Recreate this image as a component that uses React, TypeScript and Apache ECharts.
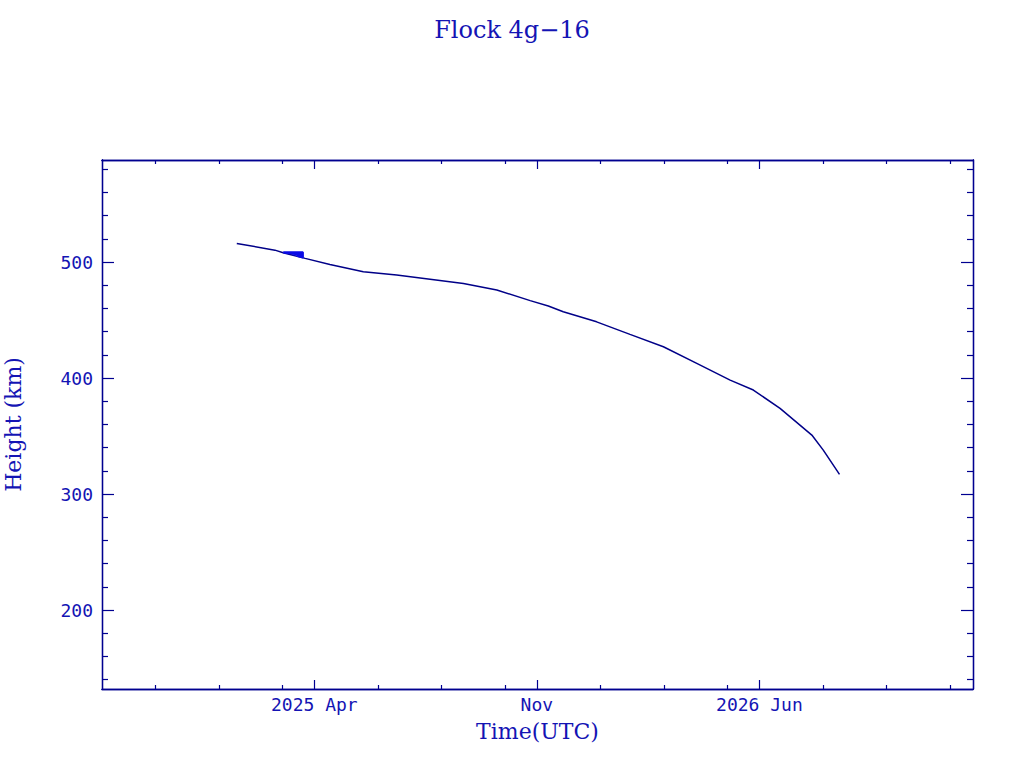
import React, { useEffect, useRef } from "react";
import * as echarts from "echarts";

// x values are month indices (Jan 2024 = 0)
const months = [12.56, 13.76, 14.02, 14.71, 15.49, 16.54, 17.59, 18.64, 19.69, 20.74, 21.79, 22.36, 22.83, 23.88, 24.93, 25.98, 27.03, 28.08, 28.81, 29.65, 30.65, 31.01, 31.52];
const heights = [516.1, 510.3, 508.0, 503.2, 498.0, 491.6, 488.8, 485.3, 481.6, 475.9, 466.8, 462.1, 457.2, 448.5, 437.7, 427.0, 412.7, 398.3, 389.7, 373.9, 350.9, 337.9, 317.0];
const blobMonths = [14.02, 14.64, 14.64, 14.45, 14.64, 14.30, 14.64, 14.15, 14.02];
const blobHeights = [508.4, 508.4, 504.0, 505.5, 505.8, 506.8, 507.0, 507.8, 508.2];

const majorX = [15, 22, 29];
const majorXLabels = ["2025 Apr", "Nov", "2026 Jun"];
const minorX = [10, 12, 14, 17, 19, 21, 24, 26, 28, 31, 33, 35];
const majorY = [200, 300, 400, 500];
const minorY = [140, 160, 180, 220, 240, 260, 280, 320, 340, 360, 380, 420, 440, 460, 480, 520, 540, 560, 580];

const X_MIN = 8.32;
const X_MAX = 35.72;
const Y_MIN = 132;
const Y_MAX = 588;

const AXIS = "#000090";
const TEXT = "#1414b4";
const LINE = "#000088";

export default function App() {
  const ref = useRef<HTMLDivElement>(null);
  useEffect(() => {
    const chart = echarts.init(ref.current!, null, { renderer: "svg" });
    const labelStyle = { fontFamily: "DejaVu Sans Mono", fontSize: 18, color: TEXT };
    const nameStyle = { fontFamily: "DejaVu Serif", fontSize: 22, color: TEXT };
    const mkX = (pos: string, values: number[], len: number, labels: boolean, extra: any = {}) => ({
      type: "value",
      position: pos,
      min: X_MIN,
      max: X_MAX,
      axisLine: { show: true, onZero: false, lineStyle: { color: AXIS, width: 1.3 } },
      axisTick: { show: true, inside: true, length: len, customValues: values, lineStyle: { color: AXIS, width: 1.2 } },
      axisLabel: labels
        ? {
            show: true,
            customValues: values,
            margin: 6,
            ...labelStyle,
            formatter: (v: number) => {
              const i = majorX.indexOf(Math.round(v));
              return i >= 0 ? majorXLabels[i] : "";
            },
          }
        : { show: false },
      splitLine: { show: false },
      ...extra,
    });
    const mkY = (pos: string, values: number[], len: number, labels: boolean, extra: any = {}) => ({
      type: "value",
      position: pos,
      min: Y_MIN,
      max: Y_MAX,
      axisLine: { show: true, onZero: false, lineStyle: { color: AXIS, width: 1.3 } },
      axisTick: { show: true, inside: true, length: len, customValues: values, lineStyle: { color: AXIS, width: 1.2 } },
      axisLabel: labels
        ? { show: true, customValues: values, margin: 9, ...labelStyle, formatter: (v: number) => String(Math.round(v)) }
        : { show: false },
      splitLine: { show: false },
      ...extra,
    });
    chart.setOption({
      animation: false,
      backgroundColor: "#ffffff",
      title: {
        text: "Flock 4g\u221216",
        left: "center",
        top: 13,
        textStyle: { fontFamily: "DejaVu Serif", fontSize: 24, fontWeight: "normal", color: TEXT },
      },
      grid: { left: 102, right: 51, top: 160, bottom: 79, containLabel: false, outerBoundsMode: "none" },
      xAxis: [
        mkX("bottom", majorX, 9, true, {
          name: "Time(UTC)",
          nameLocation: "middle",
          nameGap: 31,
          nameTextStyle: nameStyle,
        }),
        mkX("bottom", minorX, 4, false),
        mkX("top", majorX, 9, false),
        mkX("top", minorX, 4, false),
      ],
      yAxis: [
        mkY("left", majorY, 12, true, {
          name: "Height (km)",
          nameLocation: "middle",
          nameGap: 78,
          nameRotate: 90,
          nameTextStyle: nameStyle,
        }),
        mkY("left", minorY, 6, false),
        mkY("right", majorY, 12, false),
        mkY("right", minorY, 6, false),
      ],
      series: [
        {
          type: "line",
          xAxisIndex: 0,
          yAxisIndex: 0,
          data: months.map((m, i) => [m, heights[i]]),
          showSymbol: false,
          symbol: "none",
          lineStyle: { color: LINE, width: 1.5 },
        },
        {
          type: "line",
          xAxisIndex: 0,
          yAxisIndex: 0,
          data: blobMonths.map((m, i) => [m, blobHeights[i]]),
          showSymbol: false,
          symbol: "none",
          lineStyle: { color: "#0a0ae6", width: 2 },
        },
      ],
    });
    return () => chart.dispose();
  }, []);
  return (
    <div
      ref={ref}
      style={{ position: "absolute", left: 0, top: 0, width: 1024, height: 768, background: "#fff" }}
    />
  );
}
